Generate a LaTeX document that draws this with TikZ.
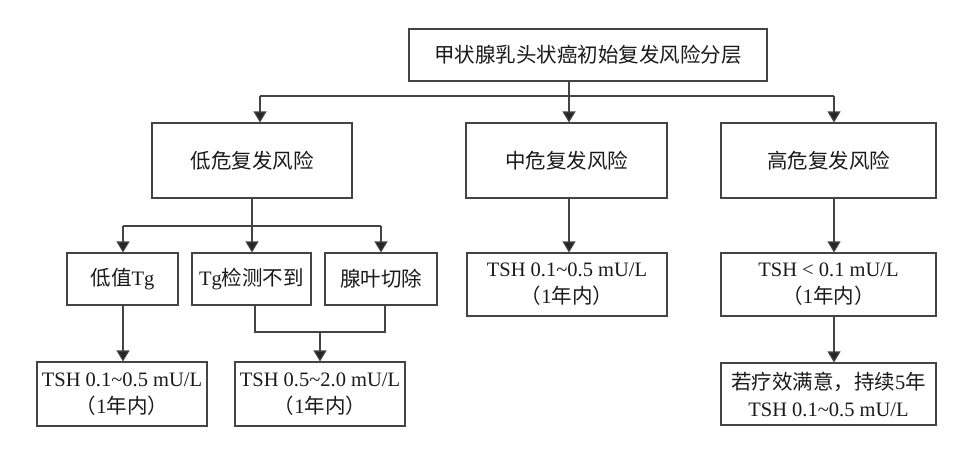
\documentclass[tikz,border=0pt]{standalone}
\usepackage{fontspec}
\setmainfont{Liberation Serif}
\newfontfamily\cjk{Noto Sans CJK SC}
\usetikzlibrary{arrows.meta}
\definecolor{linec}{HTML}{444444}
\definecolor{textc}{HTML}{1a1a1a}
\begin{document}
\begin{tikzpicture}[x=1pt,y=-1pt,
  box/.style={draw=linec, line width=1.1pt, inner sep=0pt, align=center, text=textc,
              font=\fontsize{20.5}{27}\selectfont},
  arr/.style={draw=linec, line width=1.1pt, -{Triangle[width=13pt,length=11pt,fill=black!85]}},
  ln/.style={draw=linec, line width=1.1pt}]
\useasboundingbox[fill=white] (0,0) rectangle (968,458);

% level 1
\node[box, minimum width=358pt, minimum height=52pt] (top) at (588,55)
  {{\cjk 甲状腺乳头状癌初始复发风险分层}};

% level 2
\node[box, minimum width=200pt, minimum height=75pt] (low) at (252,160.5) {{\cjk 低危复发风险}};
\node[box, minimum width=201pt, minimum height=75pt] (mid) at (566.5,160.5) {{\cjk 中危复发风险}};
\node[box, minimum width=215pt, minimum height=75pt] (high) at (828.5,160.5) {{\cjk 高危复发风险}};

% level 3
\node[box, minimum width=111pt, minimum height=52pt] (lowtg) at (122.5,279) {{\cjk 低值}Tg};
\node[box, minimum width=119pt, minimum height=52pt] (tgnd) at (251.5,279) {Tg{\cjk 检测不到}};
\node[box, minimum width=112pt, minimum height=52pt] (lobe) at (381,279) {{\cjk 腺叶切除}};
\node[box, minimum width=200pt, minimum height=63pt] (midtsh) at (567,284.5)
  {TSH 0.1\textasciitilde 0.5 mU/L\\{\cjk （}1{\cjk 年内）}};
\node[box, minimum width=215pt, minimum height=63pt] (hightsh) at (828.5,284.5)
  {TSH \textless{} 0.1 mU/L\\{\cjk （}1{\cjk 年内）}};

% level 4
\node[box, minimum width=170pt, minimum height=64pt] (tsh1) at (122,394)
  {TSH 0.1\textasciitilde 0.5 mU/L\\{\cjk （}1{\cjk 年内）}};
\node[box, minimum width=170pt, minimum height=64pt] (tsh2) at (320,394)
  {TSH 0.5\textasciitilde 2.0 mU/L\\{\cjk （}1{\cjk 年内）}};
\node[box, minimum width=215pt, minimum height=62pt] (hfinal) at (828.5,394)
  {{\cjk 若疗效满意，持续}5{\cjk 年}\\TSH 0.1\textasciitilde 0.5 mU/L};

% top connectors
\coordinate (m0) at (569,96);
\coordinate (bl) at (260,96);
\coordinate (br) at (834,96);
\draw[ln] (bl) -- (br);
\draw[arr] (top.south -| m0) -- (mid.north -| m0);
\draw[arr] (bl) -- (low.north -| bl);
\draw[arr] (br) -- (high.north -| br);

% low branch
\coordinate (lb) at (252,226);
\coordinate (lb1) at (123,226);
\coordinate (lb3) at (381,226);
\draw[ln] (low.south -| lb) -- (lb);
\draw[ln] (lb1) -- (lb3);
\draw[arr] (lb1) -- (lowtg.north -| lb1);
\draw[arr] (lb) -- (tgnd.north -| lb);
\draw[arr] (lb3) -- (lobe.north -| lb3);
\draw[arr] (lowtg.south -| lb1) -- (tsh1.north -| lb1);

% join
\coordinate (j1) at (255,332);
\coordinate (j2) at (385,332);
\coordinate (j0) at (320,332);
\draw[ln] (tgnd.south -| j1) -- (j1) -- (j2) -- (lobe.south -| j2);
\draw[arr] (j0) -- (tsh2.north -| j0);

% mid and high branches
\draw[arr] (mid.south -| m0) -- (midtsh.north -| m0);
\draw[arr] (high.south -| br) -- (hightsh.north -| br);
\draw[arr] (hightsh.south -| br) -- (hfinal.north -| br);
\end{tikzpicture}
\end{document}
